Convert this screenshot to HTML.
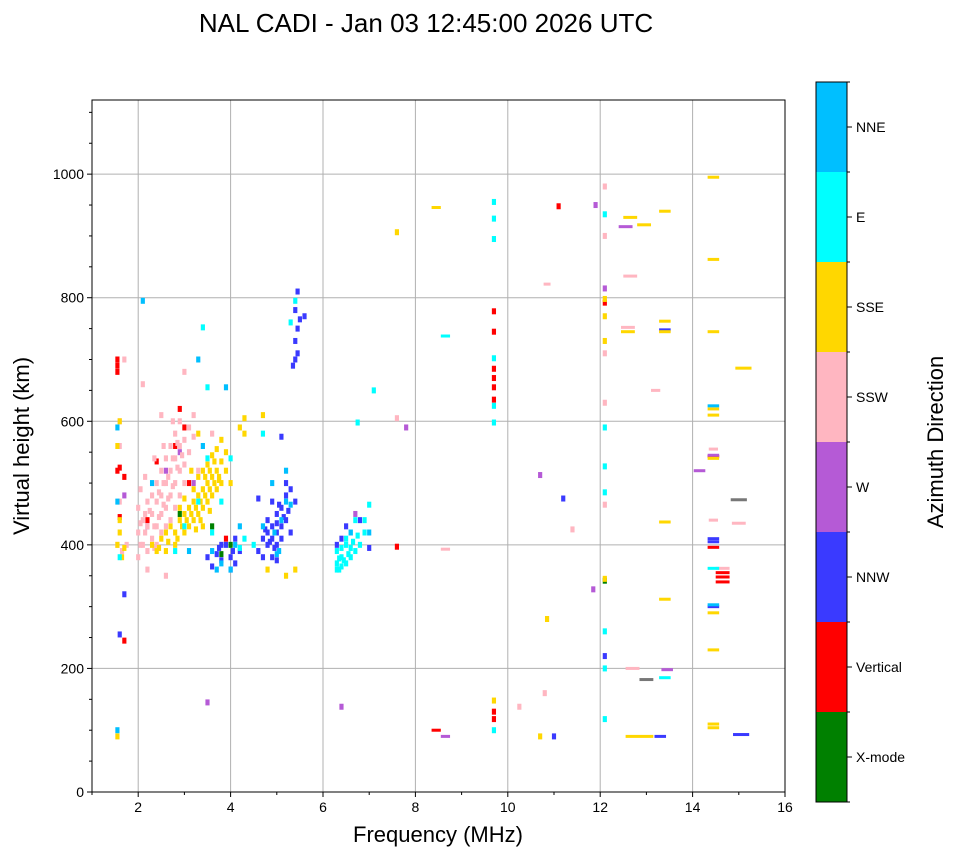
<!DOCTYPE html>
<html><head><meta charset="utf-8"><style>
body{margin:0;background:#fff;font-family:"Liberation Sans",sans-serif}
</style></head><body>
<svg id="c" width="958" height="857" xmlns="http://www.w3.org/2000/svg" font-family="Liberation Sans, sans-serif">
<text x="426" y="32" font-size="26" text-anchor="middle">NAL CADI - Jan 03 12:45:00 2026 UTC</text>
<g id="grid"></g><g id="marks"></g><g id="axes"></g><g id="cbar"></g>
<text x="438" y="842" font-size="22" text-anchor="middle">Frequency (MHz)</text>
<text transform="translate(29,446) rotate(-90)" font-size="22" text-anchor="middle">Virtual height (km)</text>
<text transform="translate(943,442) rotate(-90)" font-size="22" text-anchor="middle">Azimuth Direction</text>
</svg>
<script>
const dirLabels=["X-mode","Vertical","NNW","W","SSW","SSE","E","NNE"];
const dirColors=["#008000","#ff0000","#3a3aff","#b55ad6","#ffb6c1","#ffd700","#00ffff","#00bfff"];
const xTicks=[2,4,6,8,10,12,14,16];
const yTicks=[0,200,400,600,800,1000];
const xmodeEchoes=[[12.1,342],[4.0,400],[3.6,430],[2.9,450],[3.8,385]];
const verticalEchoes=[[1.55,700],[1.55,690],[1.55,680],[1.6,525],[1.55,520],[1.7,510],[1.6,445],[9.7,778],[9.7,745],[9.7,685],[9.7,670],[9.7,655],[9.7,635],[9.7,118],[9.7,130],[11.1,948],[12.1,792],[14.65,355,0.3],[14.65,348,0.3],[14.65,340,0.3],[14.45,396,0.25],[14.45,543,0.25],[7.6,397],[8.45,100,0.2],[1.7,245],[3.9,410],[2.9,620],[2.8,560],[3.1,500],[2.4,535],[3.0,590],[2.2,440]];
const nnwEchoes=[[4.6,390],[4.7,410],[4.8,420],[4.8,400],[4.9,430],[5.0,450],[5.0,420],[5.0,400],[4.9,380],[5.1,460],[5.1,430],[5.2,480],[5.2,440],[5.3,490],[5.3,420],[5.4,470],[4.9,470],[4.8,440],[4.7,380],[5.0,375],[5.2,500],[4.9,410],[5.0,435],[5.1,410],[5.15,445],[4.95,395],[4.85,405],[5.05,465],[5.25,455],[4.75,425],[3.5,380],[3.7,385],[3.8,375],[3.9,400],[4.0,380],[4.1,370],[4.2,390],[3.6,365],[4.0,360],[4.1,410],[3.75,395],[4.05,390],[5.4,700],[5.35,690],[5.45,710],[5.4,730],[5.45,750],[5.5,765],[5.4,780],[5.45,810],[5.6,770],[5.1,575],[4.6,475],[6.3,400],[6.5,430],[6.8,440],[7.0,395],[6.4,410],[11.2,475],[12.1,220],[13.3,90,0.25],[11.0,90],[15.05,93,0.35],[14.45,410,0.25],[14.45,405,0.25],[14.45,300,0.25],[1.7,320],[1.6,255],[3.8,400],[13.4,748,0.25]];
const wEchoes=[[10.7,513],[14.15,520,0.25],[11.85,328],[13.45,198,0.25],[12.1,815],[6.4,138],[8.65,90,0.2],[12.55,915,0.3],[11.9,950],[6.7,450],[7.8,590],[3.5,145],[2.6,520],[2.9,550],[3.2,500],[2.2,430],[1.7,480],[14.45,545,0.25]];
const sswEchoes=[[1.6,600],[1.6,560],[1.6,470],[1.55,400],[1.65,390],[1.75,400],[2.0,380],[2.0,420],[2.0,460],[2.1,440],[2.1,400],[2.2,470],[2.2,430],[2.2,390],[2.3,480],[2.3,450],[2.3,410],[2.4,500],[2.4,470],[2.4,430],[2.4,400],[2.5,520],[2.5,480],[2.5,450],[2.5,420],[2.6,540],[2.6,500],[2.6,460],[2.6,430],[2.7,560],[2.7,520],[2.7,480],[2.7,440],[2.8,580],[2.8,540],[2.8,500],[2.8,460],[2.9,600],[2.9,560],[2.9,520],[2.9,480],[3.0,570],[3.0,530],[3.0,500],[3.1,590],[3.1,550],[3.2,610],[3.2,575],[3.3,520],[2.05,400],[2.15,420],[2.25,455],[2.35,430],[2.45,485],[2.55,465],[2.65,510],[2.75,495],[2.85,525],[2.95,545],[2.45,445],[2.55,500],[2.65,475],[2.75,540],[2.85,565],[2.35,395],[2.15,450],[2.05,435],[2.2,360],[2.6,350],[2.1,660],[1.7,700],[3.0,680],[3.4,560],[12.1,980],[12.1,900],[12.65,835,0.3],[10.85,822,0.15],[12.7,200,0.3],[13.2,650,0.2],[11.4,425],[15.0,435,0.3],[14.45,555,0.2],[14.45,440,0.2],[14.65,362,0.3],[7.6,605],[12.1,710],[12.1,630],[12.1,465],[10.8,160],[10.25,138],[12.6,752,0.3],[3.6,580],[2.5,610],[8.65,393,0.2],[2.05,490],[2.15,510],[2.35,540],[2.55,560],[2.75,600]];
const sseEchoes=[[1.55,400],[1.6,420],[1.65,380],[1.6,440],[1.7,395],[1.55,560],[1.6,600],[2.3,400],[2.4,390],[2.5,410],[2.6,420],[2.7,430],[2.8,420],[2.9,440],[3.0,450],[3.1,460],[3.2,470],[3.3,480],[3.4,490],[3.5,500],[3.6,510],[3.7,520],[3.8,535],[3.9,550],[3.0,420],[3.1,430],[3.2,440],[3.3,450],[3.4,460],[3.5,470],[3.6,480],[3.7,490],[3.8,500],[3.2,490],[3.3,510],[3.4,520],[3.5,530],[3.6,545],[3.7,555],[3.8,570],[3.05,440],[3.15,450],[3.25,460],[3.35,470],[3.45,480],[3.55,490],[3.65,500],[3.75,510],[3.45,510],[3.55,520],[3.65,535],[3.25,425],[3.35,440],[2.95,430],[2.85,410],[2.65,405],[2.45,395],[2.6,390],[2.8,400],[3.0,475],[3.4,430],[4.3,605],[4.3,580],[4.7,610],[4.2,590],[3.3,580],[2.9,460],[5.2,350],[5.4,360],[4.8,360],[8.45,946,0.2],[7.6,906],[12.65,930,0.3],[12.95,918,0.3],[13.4,940,0.25],[12.1,770],[12.1,730],[12.6,745,0.3],[13.4,762,0.25],[13.4,745,0.25],[14.45,862,0.25],[14.45,995,0.25],[14.45,745,0.25],[14.45,620,0.25],[14.45,610,0.25],[14.45,540,0.25],[14.45,290,0.25],[14.45,230,0.25],[14.45,110,0.25],[14.45,104,0.25],[13.4,437,0.25],[13.4,312,0.25],[12.1,345],[10.85,280],[12.85,90,0.6],[10.7,90],[9.7,148],[15.1,686,0.35],[12.1,798],[1.55,90],[3.15,520],[3.55,455],[3.75,505],[3.9,520],[4.0,500]];
const eEchoes=[[6.3,370],[6.35,360],[6.4,380],[6.5,370],[6.6,380],[6.6,395],[6.5,400],[6.4,395],[6.7,390],[6.8,400],[6.9,420],[6.6,420],[6.5,410],[6.3,390],[6.7,440],[7.0,465],[6.9,440],[6.3,360],[6.4,365],[6.45,375],[6.55,385],[6.35,378],[6.65,405],[6.75,415],[3.5,540],[3.3,470],[3.6,420],[3.0,430],[2.8,390],[4.0,540],[4.5,400],[3.8,470],[4.2,395],[1.6,380],[4.7,580],[5.3,760],[5.4,795],[7.1,650],[6.75,598],[9.7,955],[9.7,928],[9.7,895],[9.7,702],[9.7,625],[9.7,598],[8.65,738,0.2],[12.1,935],[12.1,590],[12.1,527],[12.1,485],[12.1,260],[12.1,200],[12.1,118],[13.4,185,0.25],[14.45,362,0.25],[9.7,100],[3.4,752],[4.3,410],[3.5,655]];
const nneEchoes=[[1.55,100],[1.55,470],[1.55,590],[3.3,700],[3.9,655],[5.0,385],[5.1,440],[4.7,430],[5.3,465],[5.2,520],[4.1,400],[4.2,430],[4.0,360],[3.6,390],[3.7,360],[3.1,390],[2.3,500],[6.6,420],[5.2,470],[7.0,420],[14.45,625,0.25],[14.45,303,0.25],[4.9,500],[3.4,560],[3.8,370],[2.1,795],[4.95,420],[5.05,390]];
const faintEchoes=[[13.0,182,0.3],[15.0,473,0.35]];
const series=[xmodeEchoes,verticalEchoes,nnwEchoes,wEchoes,sswEchoes,sseEchoes,eEchoes,nneEchoes];
const seriesNames=["xmode","vertical","nnw","w","ssw","sse","e","nne"];

const NS="http://www.w3.org/2000/svg";
const L=92,R=785,T=100,B=792,X0=1,X1=16,Y0=0,Y1=1120;
const xs=f=>L+(f-X0)/(X1-X0)*(R-L);
const ys=h=>B-(h-Y0)/(Y1-Y0)*(B-T);
function mk(tag,attrs,parent){const e=document.createElementNS(NS,tag);for(const k in attrs)e.setAttribute(k,attrs[k]);parent.appendChild(e);return e;}
const grid=document.getElementById('grid'),marks=document.getElementById('marks'),axes=document.getElementById('axes'),cbar=document.getElementById('cbar');
xTicks.forEach(t=>{if(t<16){const l=mk('line',{x1:xs(t),x2:xs(t),y1:T,y2:B,stroke:'#b0b0b0','stroke-width':1},grid);}});
yTicks.forEach(t=>{if(t>0){const l=mk('line',{x1:L,x2:R,y1:ys(t),y2:ys(t),stroke:'#b0b0b0','stroke-width':1},grid);}});
function draw(arr,color,name){arr.forEach(p=>{const w=p[2]||0.09;const x=xs(p[0]-w/2);const wide=!!p[2];const r=mk('rect',{x:x,y:ys(p[1])-(wide?1.5:3),width:Math.max(3.5,xs(p[0]+w/2)-x),height:wide?3:6,fill:color},marks);});}
series.forEach((s,i)=>draw(s,dirColors[i],seriesNames[i]));
draw(faintEchoes,'#777777','faint');
const fr=mk('rect',{x:L,y:T,width:R-L,height:B-T,fill:'none',stroke:'#000','stroke-width':1},axes);

for(let f=1;f<=16;f+=1){const major=f%2===0;mk('line',{x1:xs(f),x2:xs(f),y1:B,y2:B+(major?5:3),stroke:'#000'},axes);}
xTicks.forEach(t=>{const tx=mk('text',{x:xs(t),y:B+20,'font-size':14,'text-anchor':'middle'},axes);tx.textContent=t;});
for(let h=0;h<=1100;h+=50){const major=h%200===0;mk('line',{x1:L,x2:L-(major?5:3),y1:ys(h),y2:ys(h),stroke:'#000'},axes);}
yTicks.forEach(t=>{const tx=mk('text',{x:L-8,y:ys(t)+5,'font-size':14,'text-anchor':'end'},axes);tx.textContent=t;});
const CX=816,CW=31,CT=82,CB=802,seg=(CB-CT)/dirLabels.length;
dirLabels.forEach((d,i)=>{const y=CB-(i+1)*seg;
const r=mk('rect',{x:CX,y:y,width:CW,height:seg,fill:dirColors[i]},cbar);
mk('line',{x1:CX+CW,x2:CX+CW+5,y1:y+seg/2,y2:y+seg/2,stroke:'#000'},cbar);
const t=mk('text',{x:CX+CW+9,y:y+seg/2+5,'font-size':14},cbar);t.textContent=d;});
for(let i=0;i<=dirLabels.length;i++){mk('line',{x1:CX+CW,x2:CX+CW+3,y1:CT+i*seg,y2:CT+i*seg,stroke:'#000'},cbar);}
const cf=mk('rect',{x:CX,y:CT,width:CW,height:CB-CT,fill:'none',stroke:'#000'},cbar);
</script>
</body></html>
